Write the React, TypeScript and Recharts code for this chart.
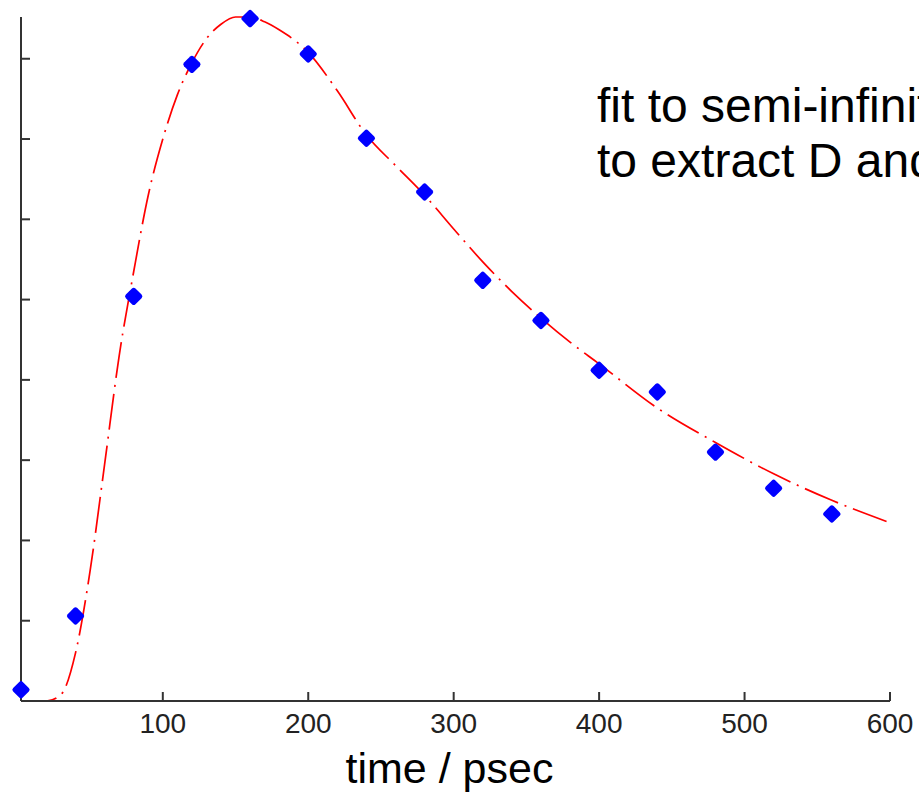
import React from 'react'
import { ComposedChart, Scatter, Line, XAxis, YAxis, Label } from 'recharts'

// measured points (time in psec, arbitrary intensity)
const pointTime = [2.5, 40, 80, 120, 160, 200, 240, 280, 320, 360, 400, 440, 480, 520, 560]
const pointValue = [0.14, 1.06, 5.04, 7.93, 8.5, 8.06, 7.01, 6.34, 5.24, 4.74, 4.12, 3.85, 3.1, 2.65, 2.33]

// fitted curve
const fitTime = [2.5, 10, 20, 30, 40, 50, 60, 70, 80, 90, 100, 110, 120, 130, 140, 150, 160, 170, 180, 200, 220, 240, 260, 280, 300, 320, 340, 360, 380, 400, 440, 480, 520, 560, 600]
const fitValue = [0, 0, 0, 0.08, 0.6, 1.62, 2.95, 4.3, 5.35, 6.3, 7.0, 7.55, 7.95, 8.25, 8.43, 8.52, 8.52, 8.46, 8.36, 8.08, 7.6, 7.05, 6.67, 6.3, 5.88, 5.47, 5.1, 4.77, 4.47, 4.2, 3.65, 3.22, 2.83, 2.5, 2.22]

const xTicks = [100, 200, 300, 400, 500, 600]
const yTicks = [1, 2, 3, 4, 5, 6, 7, 8]

const points = pointTime.map((t, i) => ({ t, v: pointValue[i] }))
const fit = fitTime.map((t, i) => ({ t, v: fitValue[i] }))

const FONT = '"Liberation Sans", Arial, sans-serif'
const AXIS = '#333333'

// x tick: short inward mark plus label below
const XTick = (props: any) => {
  const { x, y, payload } = props
  return (
    <g>
      <line x1={x} x2={x} y1={y} y2={y - 9} stroke={AXIS} strokeWidth={2} />
      <text x={x} y={y + 32} textAnchor="middle" fontFamily={FONT} fontSize={28} fill="#222">
        {payload.value}
      </text>
    </g>
  )
}

// y tick: inward mark only, no labels in the original
const YTick = (props: any) => {
  const { x, y } = props
  return <line x1={x} x2={x + 9} y1={y} y2={y} stroke={AXIS} strokeWidth={2} />
}

// blue diamond marker
const Diamond = (props: any) => {
  const { cx, cy } = props
  if (cx == null || cy == null) return null
  const s = 13.6
  return (
    <rect
      x={cx - s / 2}
      y={cy - s / 2}
      width={s}
      height={s}
      rx={2.5}
      fill="#0000ff"
      transform={`rotate(45 ${cx} ${cy})`}
    />
  )
}

export default function App() {
  return (
    <div style={{ position: 'absolute', left: 0, top: 0, width: 919, height: 795, overflow: 'hidden', background: '#fff' }}>
      <ComposedChart width={919} height={795} margin={{ top: 17, right: 29, left: 20, bottom: 34 }}>
        <XAxis
          type="number"
          dataKey="t"
          domain={[2.5, 600]}
          ticks={xTicks}
          height={60}
          tickSize={0}
          tickMargin={0}
          tickLine={false}
          axisLine={{ stroke: AXIS, strokeWidth: 2 }}
          tick={<XTick />}
        >
          <Label
            value="time / psec"
            position="bottom"
            offset={-9}
            dx={-6}
            style={{ fontFamily: FONT, fontSize: 43, fill: '#000' }}
          />
        </XAxis>
        <YAxis
          type="number"
          dataKey="v"
          domain={[0, 8.52]}
          ticks={yTicks}
          width={1}
          tickSize={0}
          tickMargin={0}
          tickLine={false}
          axisLine={{ stroke: AXIS, strokeWidth: 2 }}
          tick={<YTick />}
        />
        <Line
          data={fit}
          dataKey="v"
          type="monotone"
          stroke="#ff0000"
          strokeWidth={1.7}
          strokeDasharray="36 7 2 7"
          dot={false}
          activeDot={false}
          isAnimationActive={false}
        />
        <Scatter data={points} dataKey="v" shape={<Diamond />} isAnimationActive={false} />
      </ComposedChart>
      <div
        style={{
          position: 'absolute',
          left: 597,
          top: 78,
          fontFamily: FONT,
          fontSize: 48,
          lineHeight: '55px',
          color: '#000',
          whiteSpace: 'nowrap',
        }}
      >
        fit to semi-infinite
        <br />
        to extract D and
      </div>
    </div>
  )
}
